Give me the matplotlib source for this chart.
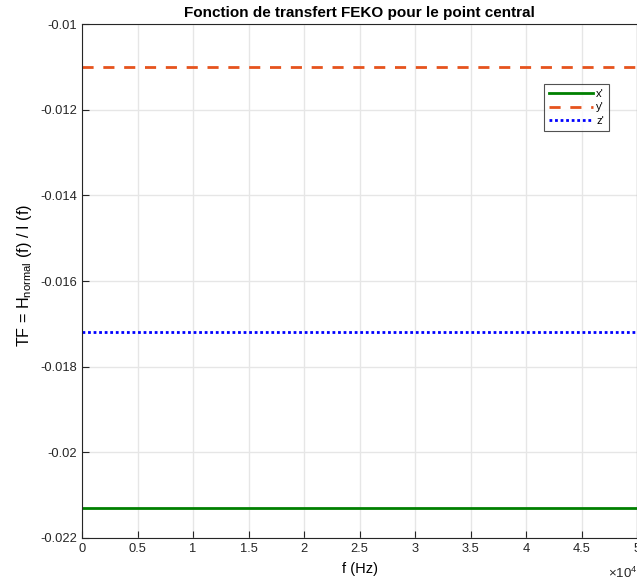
import matplotlib
matplotlib.use('Agg')
import matplotlib.pyplot as plt

plt.rcParams['font.family'] = ['Liberation Sans', 'DejaVu Sans']
plt.rcParams['mathtext.fontset'] = 'custom'
plt.rcParams['mathtext.rm'] = 'Liberation Sans'
plt.rcParams['mathtext.it'] = 'Liberation Sans'

# Données (fonction de transfert constante)
freq = [0, 5000, 10000, 15000, 20000, 25000, 30000, 35000, 40000, 45000, 50000]
tf_x = [-0.0213, -0.0213, -0.0213, -0.0213, -0.0213, -0.0213, -0.0213, -0.0213, -0.0213, -0.0213, -0.0213]
tf_y = [-0.0110, -0.0110, -0.0110, -0.0110, -0.0110, -0.0110, -0.0110, -0.0110, -0.0110, -0.0110, -0.0110]
tf_z = [-0.01718, -0.01718, -0.01718, -0.01718, -0.01718, -0.01718, -0.01718, -0.01718, -0.01718, -0.01718, -0.01718]
xticks = [0, 5000, 10000, 15000, 20000, 25000, 30000, 35000, 40000, 45000, 50000]
xtick_labels = ['0', '0.5', '1', '1.5', '2', '2.5', '3', '3.5', '4', '4.5', '5']
yticks = [-0.022, -0.02, -0.018, -0.016, -0.014, -0.012, -0.01]
ytick_labels = ['-0.022', '-0.02', '-0.018', '-0.016', '-0.014', '-0.012', '-0.01']

fig = plt.figure(figsize=(6.37, 5.83), dpi=100)
ax = fig.add_axes([0.1287, 0.0772, 0.872, 0.8816])

ax.plot(freq, tf_x, color='#008000', linestyle='-', linewidth=2, label="x'")
ax.plot(freq, tf_y, color='#e6531d', linestyle=(0, (4, 3.5)), linewidth=2, label="y'")
ax.plot(freq, tf_z, color='#0000ff', linestyle=(0, (1, 1)), linewidth=2, label="z'")

ax.set_xlim(0, 50000)
ax.set_ylim(-0.022, -0.01)
ax.set_xticks(xticks)
ax.set_xticklabels(xtick_labels)
ax.set_yticks(yticks)
ax.set_yticklabels(ytick_labels)
ax.tick_params(direction='in', labelsize=9.3, length=5, colors='#262626')
ax.grid(True, color='#e6e6e6', linewidth=1)
ax.set_axisbelow(True)
for s in ax.spines.values():
    s.set_color('#262626')

ax.set_title('Fonction de transfert FEKO pour le point central', fontsize=11,
             fontweight='bold', pad=5)
ax.set_xlabel('f (Hz)', fontsize=10.5, labelpad=5)
ax.set_ylabel(r'TF = H$_{\mathrm{normal}}$ (f) / I (f)', fontsize=11.6)
ax.yaxis.set_label_coords(-0.086, 0.51)
ax.text(1.0, -0.068, r'$\times$10$^{4}$', transform=ax.transAxes, fontsize=9.5,
        ha='right', va='center', color='#262626')

leg = ax.legend(loc='upper right', bbox_to_anchor=(0.949, 0.883), fontsize=8,
                frameon=True, fancybox=False, edgecolor='#262626',
                handlelength=4, borderpad=0.45, labelspacing=0.3, handletextpad=0.3,
                borderaxespad=0)
leg.get_frame().set_linewidth(0.8)

plt.savefig('out.png', dpi=100)
